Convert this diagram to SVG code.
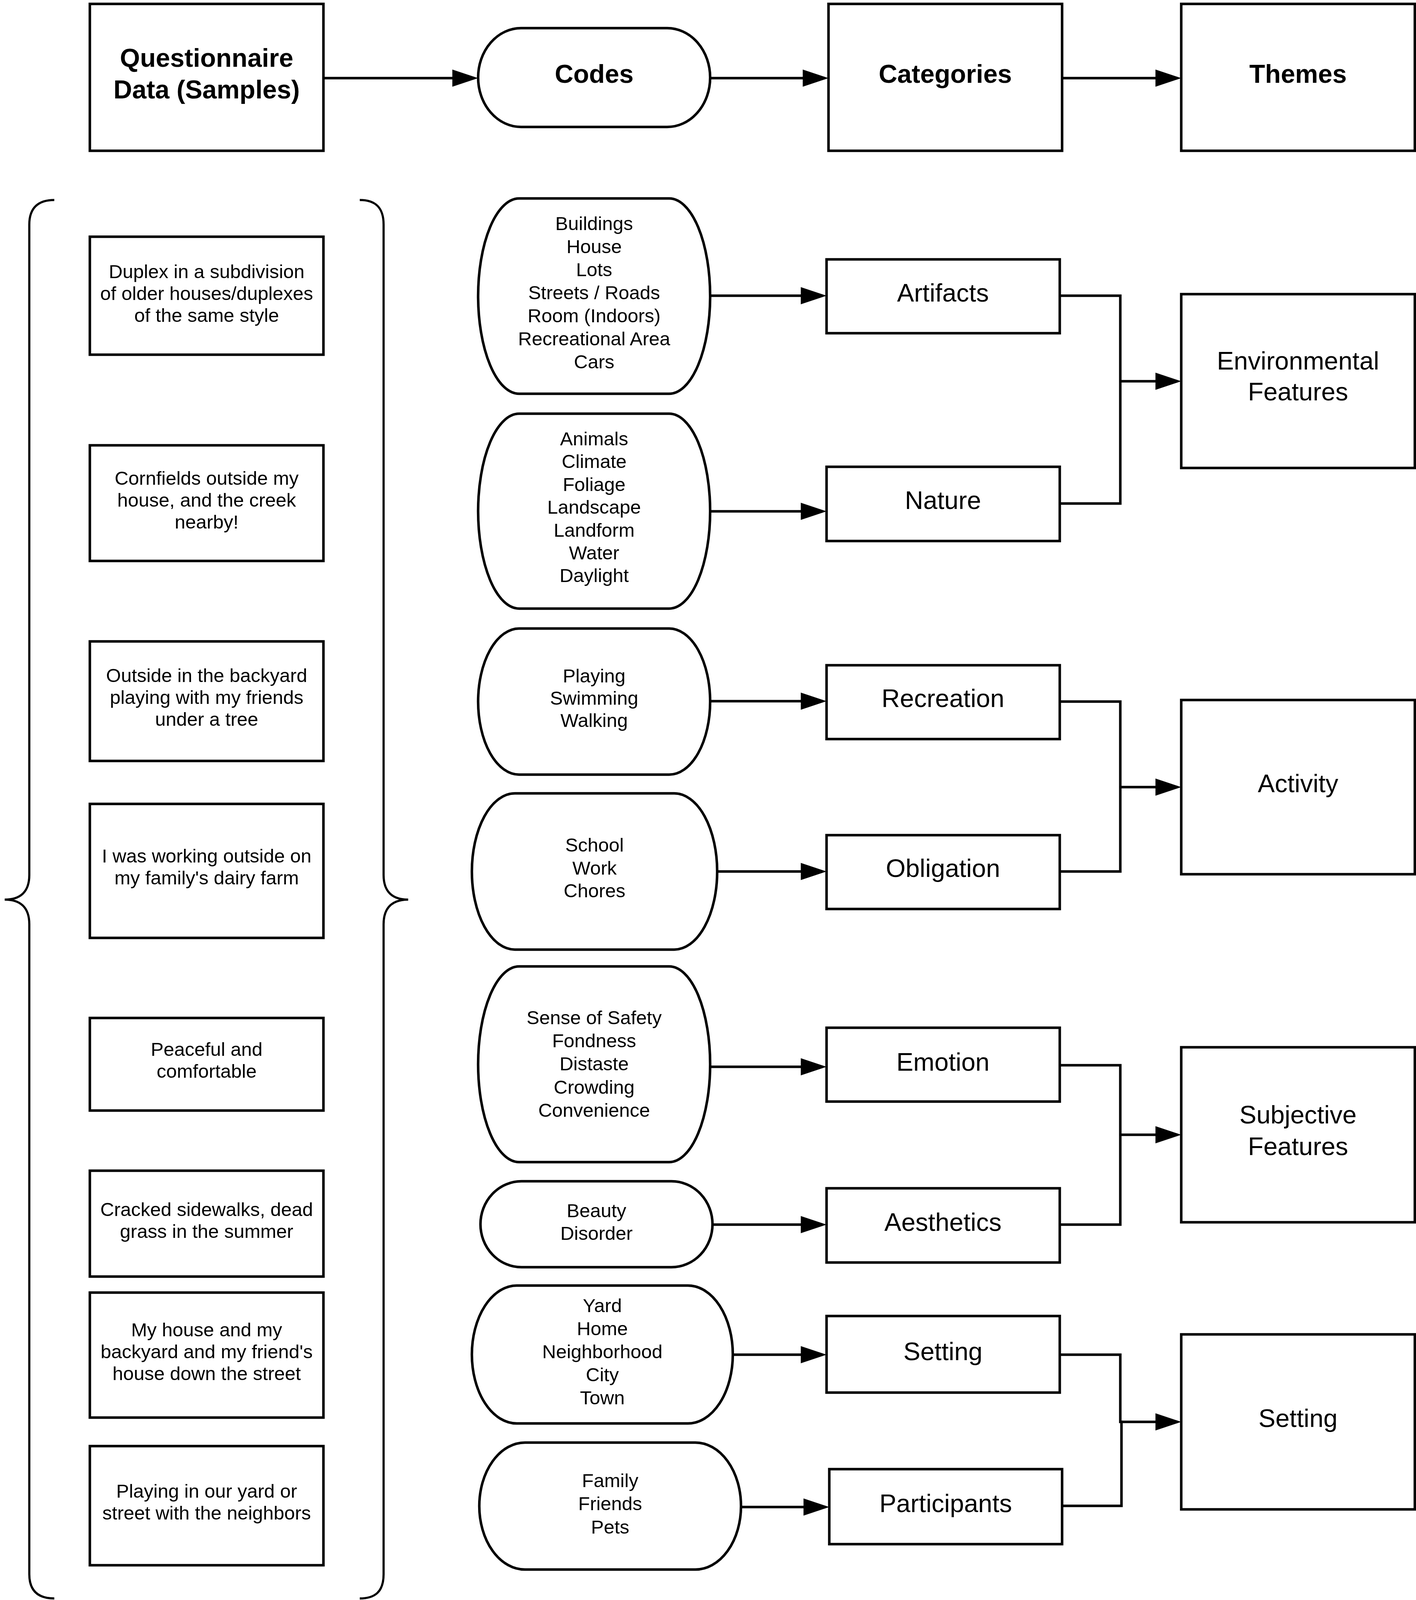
<svg xmlns="http://www.w3.org/2000/svg" width="3625" height="4102" viewBox="0 0 3625 4102">
<defs>
<style>
rect{fill:#fff;stroke:#000;stroke-width:6.5}
.brace{fill:none;stroke:#000;stroke-width:5.5}
.c{fill:none;stroke:#000;stroke-width:6.5}
text{font-family:"Liberation Sans",Arial,sans-serif;fill:#000;text-anchor:middle}
.h{font-size:66px;font-weight:bold}
.s{font-size:49px}
.k{font-size:49px}
.g{font-size:65px}
</style>
<marker id="ah" markerUnits="userSpaceOnUse" viewBox="0 0 66 44" markerWidth="66" markerHeight="44" refX="56" refY="22" orient="auto">
<path d="M0,0 L66,22 L0,44 Z" fill="#000"/>
</marker>
</defs>
<rect x="0" y="0" width="3625" height="4102" style="fill:#fff;stroke:none"/>

<g id="braces">
<path class="brace" d="M139,512 C100,512 75,530 75,575 L75,2240 C75,2285 50,2303 12,2303 C50,2303 75,2321 75,2366 L75,4030 C75,4075 100,4092 139,4092"/>
<path class="brace" d="M921,512 C960,512 982,530 982,575 L982,2240 C982,2285 1007,2303 1045,2303 C1007,2303 982,2321 982,2366 L982,4030 C982,4075 960,4092 921,4092"/>
</g>

<g id="connectors">
<path class="c" d="M828,200 H1214" marker-end="url(#ah)"/>
<path class="c" d="M1818,200 H2111" marker-end="url(#ah)"/>
<path class="c" d="M2719,200 H3014" marker-end="url(#ah)"/>
<path class="c" d="M1818,757 H2106" marker-end="url(#ah)"/>
<path class="c" d="M1818,1309 H2106" marker-end="url(#ah)"/>
<path class="c" d="M1818,1795 H2106" marker-end="url(#ah)"/>
<path class="c" d="M1836,2231 H2106" marker-end="url(#ah)"/>
<path class="c" d="M1818,2731 H2106" marker-end="url(#ah)"/>
<path class="c" d="M1824,3135 H2106" marker-end="url(#ah)"/>
<path class="c" d="M1876,3468 H2106" marker-end="url(#ah)"/>
<path class="c" d="M1897,3858 H2113" marker-end="url(#ah)"/>
<path class="c" d="M2713,757 H2868 V1289 H2713"/>
<path class="c" d="M2868,976 H3014" marker-end="url(#ah)"/>
<path class="c" d="M2713,1796 H2868 V2231 H2713"/>
<path class="c" d="M2868,2015 H3014" marker-end="url(#ah)"/>
<path class="c" d="M2713,2727 H2868 V3135 H2713"/>
<path class="c" d="M2868,2905 H3014" marker-end="url(#ah)"/>
<path class="c" d="M2713,3468 H2868 V3640 H2871 V3855 H2719"/>
<path class="c" d="M2868,3640 H3014" marker-end="url(#ah)"/>
</g>

<g id="n-questionnaire"><rect x="230" y="10" width="598" height="376"/><text class="h" x="529" y="171">Questionnaire</text><text class="h" x="529" y="252">Data (Samples)</text></g>
<g id="n-codes"><rect x="1224" y="72" width="594" height="253" rx="110" ry="126.5"/><text class="h" x="1521" y="212">Codes</text></g>
<g id="n-categories"><rect x="2121" y="10" width="598" height="376"/><text class="h" x="2420" y="212">Categories</text></g>
<g id="n-themes"><rect x="3024" y="10" width="598" height="376"/><text class="h" x="3323" y="212">Themes</text></g>

<g id="s-duplex"><rect x="230" y="606" width="598" height="302"/><text class="s" x="529" y="712">Duplex in a subdivision</text><text class="s" x="529" y="768">of older houses/duplexes</text><text class="s" x="529" y="824">of the same style</text></g>
<g id="s-cornfields"><rect x="230" y="1140" width="598" height="296"/><text class="s" x="529" y="1241">Cornfields outside my</text><text class="s" x="529" y="1297">house, and the creek</text><text class="s" x="529" y="1353">nearby!</text></g>
<g id="s-outside"><rect x="230" y="1642" width="598" height="306"/><text class="s" x="529" y="1746">Outside in the backyard</text><text class="s" x="529" y="1802">playing with my friends</text><text class="s" x="529" y="1858">under a tree</text></g>
<g id="s-working"><rect x="230" y="2058" width="598" height="343"/><text class="s" x="529" y="2208">I was working outside on</text><text class="s" x="529" y="2264">my family's dairy farm</text></g>
<g id="s-peaceful"><rect x="230" y="2606" width="598" height="237"/><text class="s" x="529" y="2703">Peaceful and</text><text class="s" x="529" y="2759">comfortable</text></g>
<g id="s-cracked"><rect x="230" y="2997" width="598" height="271"/><text class="s" x="529" y="3113">Cracked sidewalks, dead</text><text class="s" x="529" y="3169">grass in the summer</text></g>
<g id="s-myhouse"><rect x="230" y="3309" width="598" height="320"/><text class="s" x="529" y="3421">My house and my</text><text class="s" x="529" y="3477">backyard and my friend's</text><text class="s" x="529" y="3533">house down the street</text></g>
<g id="s-playing"><rect x="230" y="3702" width="598" height="305"/><text class="s" x="529" y="3834">Playing in our yard or</text><text class="s" x="529" y="3890">street with the neighbors</text></g>

<g id="c-buildings"><rect x="1224" y="508" width="594" height="500" rx="105" ry="250"/>
<text class="k" x="1521" y="589">Buildings</text><text class="k" x="1521" y="648">House</text><text class="k" x="1521" y="707">Lots</text><text class="k" x="1521" y="766">Streets / Roads</text><text class="k" x="1521" y="825">Room (Indoors)</text><text class="k" x="1521" y="884">Recreational Area</text><text class="k" x="1521" y="943">Cars</text></g>
<g id="c-animals"><rect x="1224" y="1059" width="594" height="499" rx="105" ry="249.5"/>
<text class="k" x="1521" y="1140">Animals</text><text class="k" x="1521" y="1198">Climate</text><text class="k" x="1521" y="1257">Foliage</text><text class="k" x="1521" y="1315">Landscape</text><text class="k" x="1521" y="1374">Landform</text><text class="k" x="1521" y="1432">Water</text><text class="k" x="1521" y="1490">Daylight</text></g>
<g id="c-playing"><rect x="1224" y="1609" width="594" height="374" rx="105" ry="187"/>
<text class="k" x="1521" y="1747">Playing</text><text class="k" x="1521" y="1804">Swimming</text><text class="k" x="1521" y="1861">Walking</text></g>
<g id="c-school"><rect x="1208" y="2031" width="628" height="400" rx="110" ry="200"/>
<text class="k" x="1522" y="2180">School</text><text class="k" x="1522" y="2239">Work</text><text class="k" x="1522" y="2297">Chores</text></g>
<g id="c-sense"><rect x="1224" y="2474" width="594" height="501" rx="105" ry="250.5"/>
<text class="k" x="1521" y="2622">Sense of Safety</text><text class="k" x="1521" y="2681">Fondness</text><text class="k" x="1521" y="2740">Distaste</text><text class="k" x="1521" y="2800">Crowding</text><text class="k" x="1521" y="2859">Convenience</text></g>
<g id="c-beauty"><rect x="1230" y="3024" width="594" height="220" rx="105" ry="110"/>
<text class="k" x="1527" y="3116">Beauty</text><text class="k" x="1527" y="3174">Disorder</text></g>
<g id="c-yard"><rect x="1208" y="3291" width="668" height="353" rx="115" ry="176.5"/>
<text class="k" x="1542" y="3359">Yard</text><text class="k" x="1542" y="3418">Home</text><text class="k" x="1542" y="3477">Neighborhood</text><text class="k" x="1542" y="3536">City</text><text class="k" x="1542" y="3595">Town</text></g>
<g id="c-family"><rect x="1227" y="3693" width="670" height="325" rx="117" ry="162.5"/>
<text class="k" x="1562" y="3807">Family</text><text class="k" x="1562" y="3866">Friends</text><text class="k" x="1562" y="3926">Pets</text></g>

<g id="k-artifacts"><rect x="2116" y="664" width="597" height="189"/><text class="g" x="2414" y="772">Artifacts</text></g>
<g id="k-nature"><rect x="2116" y="1195" width="597" height="190"/><text class="g" x="2414" y="1303">Nature</text></g>
<g id="k-recreation"><rect x="2116" y="1703" width="597" height="189"/><text class="g" x="2414" y="1810">Recreation</text></g>
<g id="k-obligation"><rect x="2116" y="2138" width="597" height="189"/><text class="g" x="2414" y="2245">Obligation</text></g>
<g id="k-emotion"><rect x="2116" y="2631" width="597" height="189"/><text class="g" x="2414" y="2741">Emotion</text></g>
<g id="k-aesthetics"><rect x="2116" y="3042" width="597" height="190"/><text class="g" x="2414" y="3151">Aesthetics</text></g>
<g id="k-setting"><rect x="2116" y="3369" width="597" height="196"/><text class="g" x="2414" y="3482">Setting</text></g>
<g id="k-participants"><rect x="2123" y="3761" width="596" height="192"/><text class="g" x="2421" y="3871">Participants</text></g>

<g id="t-environmental"><rect x="3024" y="753" width="598" height="445"/><text class="g" x="3323" y="946">Environmental</text><text class="g" x="3323" y="1025">Features</text></g>
<g id="t-activity"><rect x="3024" y="1792" width="598" height="446"/><text class="g" x="3323" y="2028">Activity</text></g>
<g id="t-subjective"><rect x="3024" y="2681" width="598" height="448"/><text class="g" x="3323" y="2876">Subjective</text><text class="g" x="3323" y="2957">Features</text></g>
<g id="t-setting"><rect x="3024" y="3416" width="598" height="448"/><text class="g" x="3323" y="3653">Setting</text></g>
</svg>
